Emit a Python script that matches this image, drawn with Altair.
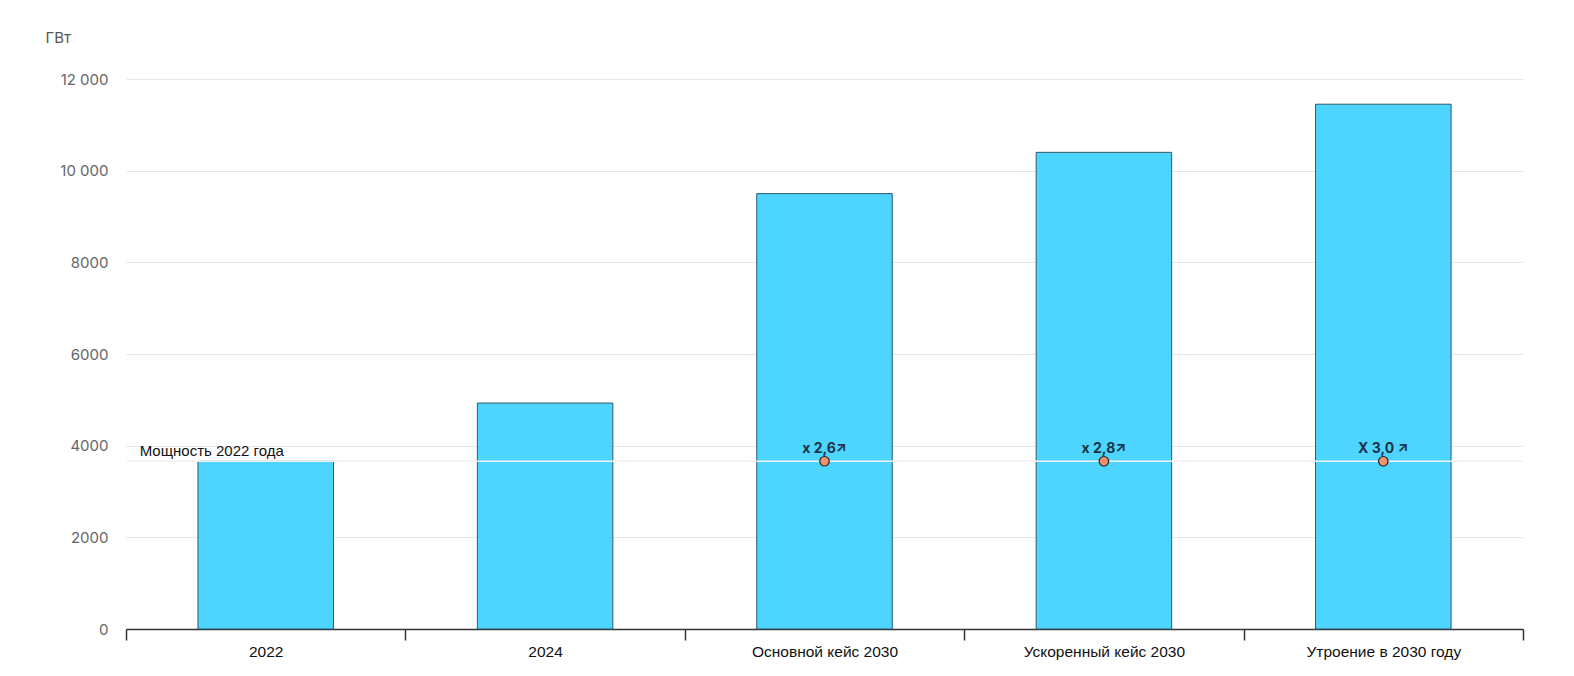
import altair as alt
import pandas as pd

categories = ["2022", "2024", "Основной кейс 2030", "Ускоренный кейс 2030", "Утроение в 2030 году"]
values = [3660, 4930, 9500, 10400, 11450]
base_2022 = 3660
mult_cats = ["Основной кейс 2030", "Ускоренный кейс 2030", "Утроение в 2030 году"]
mult_labels = ["x 2,6↗", "x 2,8↗", "X 3,0 ↗"]

bars_df = pd.DataFrame({"cat": categories, "val": values})
mult_df = pd.DataFrame({"cat": mult_cats, "label": mult_labels, "val": [base_2022] * 3})
line_df = pd.DataFrame({"val": [base_2022], "label": ["Мощность 2022 года"], "cat": ["2022"]})

x_scale = alt.Scale(paddingInner=0, paddingOuter=0)
x_enc = alt.X("cat:N", sort=categories, title=None, scale=x_scale,
              axis=alt.Axis(labelAngle=0, labelFont="Liberation Sans", labelFontSize=15.5,
                            labelColor="#111", labelPadding=4, domainColor="#333",
                            domainWidth=1.5, tickColor="#333", tickWidth=1.5, tickSize=11,
                            tickBand="extent", grid=False))
y_scale = alt.Scale(domain=[0, 12000], nice=False)

bars = alt.Chart(bars_df).mark_bar(color="#4dd4ff", stroke="#2f5a6a", strokeWidth=1,
                                   width=alt.RelativeBandSize(0.485)).encode(
    x=x_enc,
    y=alt.Y("val:Q", scale=y_scale,
            axis=alt.Axis(values=[0, 2000, 4000, 6000, 8000, 10000, 12000],
                          labelExpr="datum.value >= 10000 ? replace(format(datum.value, ','), ',', ' ') : format(datum.value, 'd')",
                          labelFont="Inter", labelFontSize=15, labelColor="#666",
                          labelPadding=18, domain=False, ticks=False,
                          gridColor="#e6e6e6", gridWidth=1,
                          title="ГВт", titleAngle=0, titleFont="Inter", titleFontSize=15,
                          titleFontWeight="normal", titleColor="#555", titleAlign="left",
                          titleBaseline="middle", titleX=-81, titleY=-42)),
)

rule = alt.Chart(line_df).mark_rule(color="#f2f2f2", strokeWidth=1.5).encode(
    y=alt.Y("val:Q", scale=y_scale),
)

line_text = alt.Chart(line_df).mark_text(align="left", baseline="bottom", dx=-126, dy=-2,
                                         font="Liberation Sans", fontSize=15, color="#111").encode(
    x=alt.X("cat:N", sort=categories, scale=x_scale),
    y=alt.Y("val:Q", scale=y_scale),
    text="label:N",
)

points = alt.Chart(mult_df).mark_point(shape="circle", filled=True, size=90, fill="#f4916b",
                                       stroke="#222", strokeWidth=1.2, opacity=1).encode(
    x=alt.X("cat:N", sort=categories, scale=x_scale),
    y=alt.Y("val:Q", scale=y_scale),
)

labels = alt.Chart(mult_df).mark_text(baseline="bottom", dy=-5, font="Inter", fontSize=14,
                                      fontWeight="bold", color="#1f3347").encode(
    x=alt.X("cat:N", sort=categories, scale=x_scale),
    y=alt.Y("val:Q", scale=y_scale),
    text="label:N",
)

chart = alt.layer(bars, rule, line_text, points, labels).properties(
    width=1397, height=550,
    background="white",
    autosize=alt.AutoSizeParams(type="none"),
    padding={"left": 118, "top": 71, "right": 43, "bottom": 40},
).configure_view(strokeWidth=0, stroke="transparent")

chart.save("out.html", embed_options={"renderer": "svg", "actions": False})
